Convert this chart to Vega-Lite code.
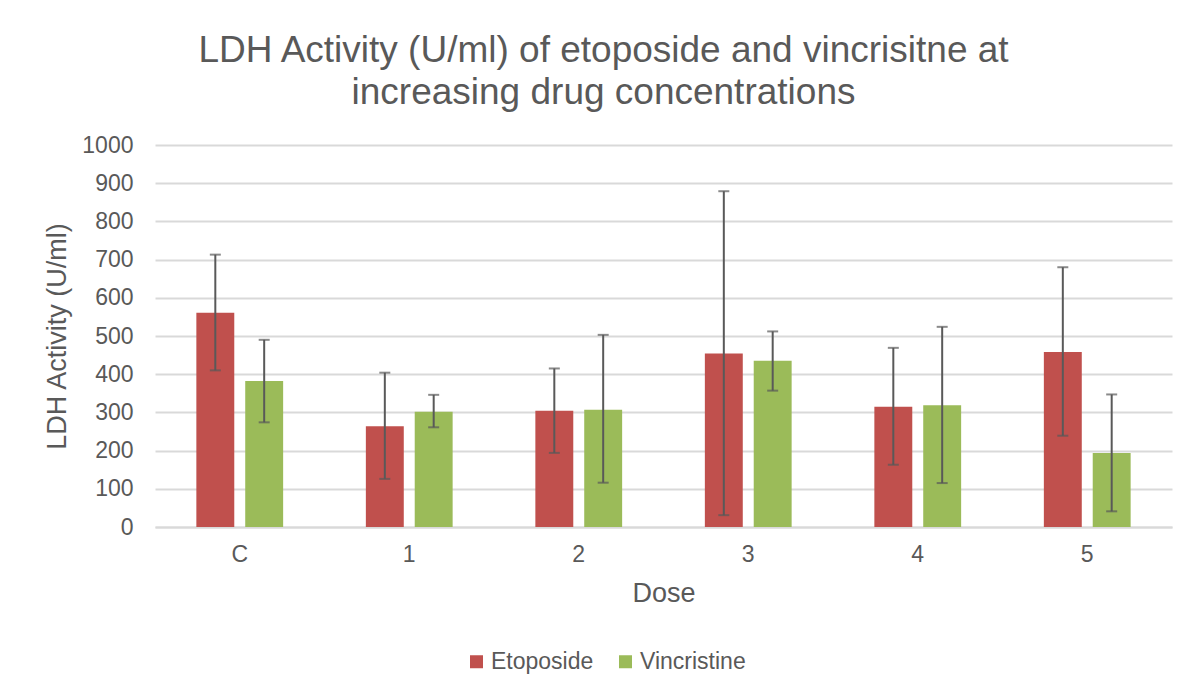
{
  "$schema": "https://vega.github.io/schema/vega-lite/v6.json",
  "autosize": {"type": "none"},
  "padding": {"left": 155, "top": 145, "right": 26, "bottom": 172},
  "width": 1017,
  "height": 382,
  "background": "white",
  "title": {
    "text": ["LDH Activity (U/ml) of etoposide and vincrisitne at", "increasing drug concentrations"],
    "font": "Liberation Sans",
    "fontSize": 37,
    "fontWeight": "normal",
    "color": "#595959",
    "lineHeight": 42,
    "anchor": "middle",
    "dx": -60,
    "offset": 22
  },
  "data": {
    "values": [
      {"Dose": "C", "Drug": "Etoposide", "value": 561, "lower": 410, "upper": 713},
      {"Dose": "C", "Drug": "Vincristine", "value": 382, "lower": 274, "upper": 490},
      {"Dose": "1", "Drug": "Etoposide", "value": 264, "lower": 126, "upper": 404},
      {"Dose": "1", "Drug": "Vincristine", "value": 302, "lower": 261, "upper": 346},
      {"Dose": "2", "Drug": "Etoposide", "value": 304, "lower": 194, "upper": 415},
      {"Dose": "2", "Drug": "Vincristine", "value": 307, "lower": 116, "upper": 503},
      {"Dose": "3", "Drug": "Etoposide", "value": 454, "lower": 31, "upper": 879},
      {"Dose": "3", "Drug": "Vincristine", "value": 435, "lower": 357, "upper": 512},
      {"Dose": "4", "Drug": "Etoposide", "value": 315, "lower": 163, "upper": 469},
      {"Dose": "4", "Drug": "Vincristine", "value": 319, "lower": 115, "upper": 524},
      {"Dose": "5", "Drug": "Etoposide", "value": 458, "lower": 239, "upper": 680},
      {"Dose": "5", "Drug": "Vincristine", "value": 194, "lower": 41, "upper": 347}
    ]
  },
  "encoding": {
    "x": {
      "field": "Dose",
      "type": "nominal",
      "sort": ["C", "1", "2", "3", "4", "5"],
      "scale": {"paddingInner": 0.488, "paddingOuter": 0.244},
      "axis": {
        "title": "Dose",
        "labelAngle": 0,
        "labelFont": "Liberation Sans",
        "labelFontSize": 23,
        "labelColor": "#595959",
        "labelPadding": 16,
        "titleFont": "Liberation Sans",
        "titleFontSize": 27,
        "titleFontWeight": "normal",
        "titleColor": "#595959",
        "titlePadding": 14,
        "ticks": false,
        "domainColor": "#D9D9D9",
        "domainWidth": 2,
        "grid": false
      }
    },
    "xOffset": {
      "field": "Drug",
      "type": "nominal",
      "scale": {"paddingInner": 0.224, "paddingOuter": 0}
    }
  },
  "layer": [
    {
      "mark": {"type": "bar"},
      "encoding": {
        "y": {
          "field": "value",
          "type": "quantitative",
          "scale": {"domain": [0, 1000]},
          "title": "LDH Activity (U/ml)"
        },
        "color": {
          "field": "Drug",
          "type": "nominal",
          "scale": {"domain": ["Etoposide", "Vincristine"], "range": ["#C0504D", "#9BBB59"]},
          "legend": {
            "title": null,
            "orient": "none",
            "direction": "horizontal",
            "legendX": 310,
            "legendY": 505,
            "symbolType": "square",
            "symbolSize": 169,
            "symbolStrokeWidth": 0,
            "symbolOpacity": 1,
            "labelFont": "Liberation Sans",
            "labelFontSize": 23,
            "labelColor": "#595959",
            "labelOffset": 3,
            "columnPadding": 20
          }
        }
      }
    },
    {
      "mark": {"type": "rule", "color": "#595959", "strokeWidth": 2},
      "encoding": {
        "y": {"field": "lower", "type": "quantitative"},
        "y2": {"field": "upper"}
      }
    },
    {
      "mark": {"type": "tick", "color": "#595959", "size": 11, "thickness": 2},
      "encoding": {
        "y": {"field": "upper", "type": "quantitative"}
      }
    },
    {
      "mark": {"type": "tick", "color": "#595959", "size": 11, "thickness": 2},
      "encoding": {
        "y": {"field": "lower", "type": "quantitative"}
      }
    }
  ],
  "config": {
    "view": {"stroke": null},
    "axisY": {
      "values": [0, 100, 200, 300, 400, 500, 600, 700, 800, 900, 1000],
      "tickCount": 10,
      "format": "d",
      "labelOverlap": false,
      "labelFont": "Liberation Sans",
      "labelFontSize": 23,
      "labelColor": "#595959",
      "labelPadding": 22,
      "titleFont": "Liberation Sans",
      "titleFontSize": 27,
      "titleFontWeight": "normal",
      "titleColor": "#595959",
      "titlePadding": 10,
      "ticks": false,
      "domain": false,
      "gridColor": "#D9D9D9",
      "gridWidth": 2
    }
  }
}
